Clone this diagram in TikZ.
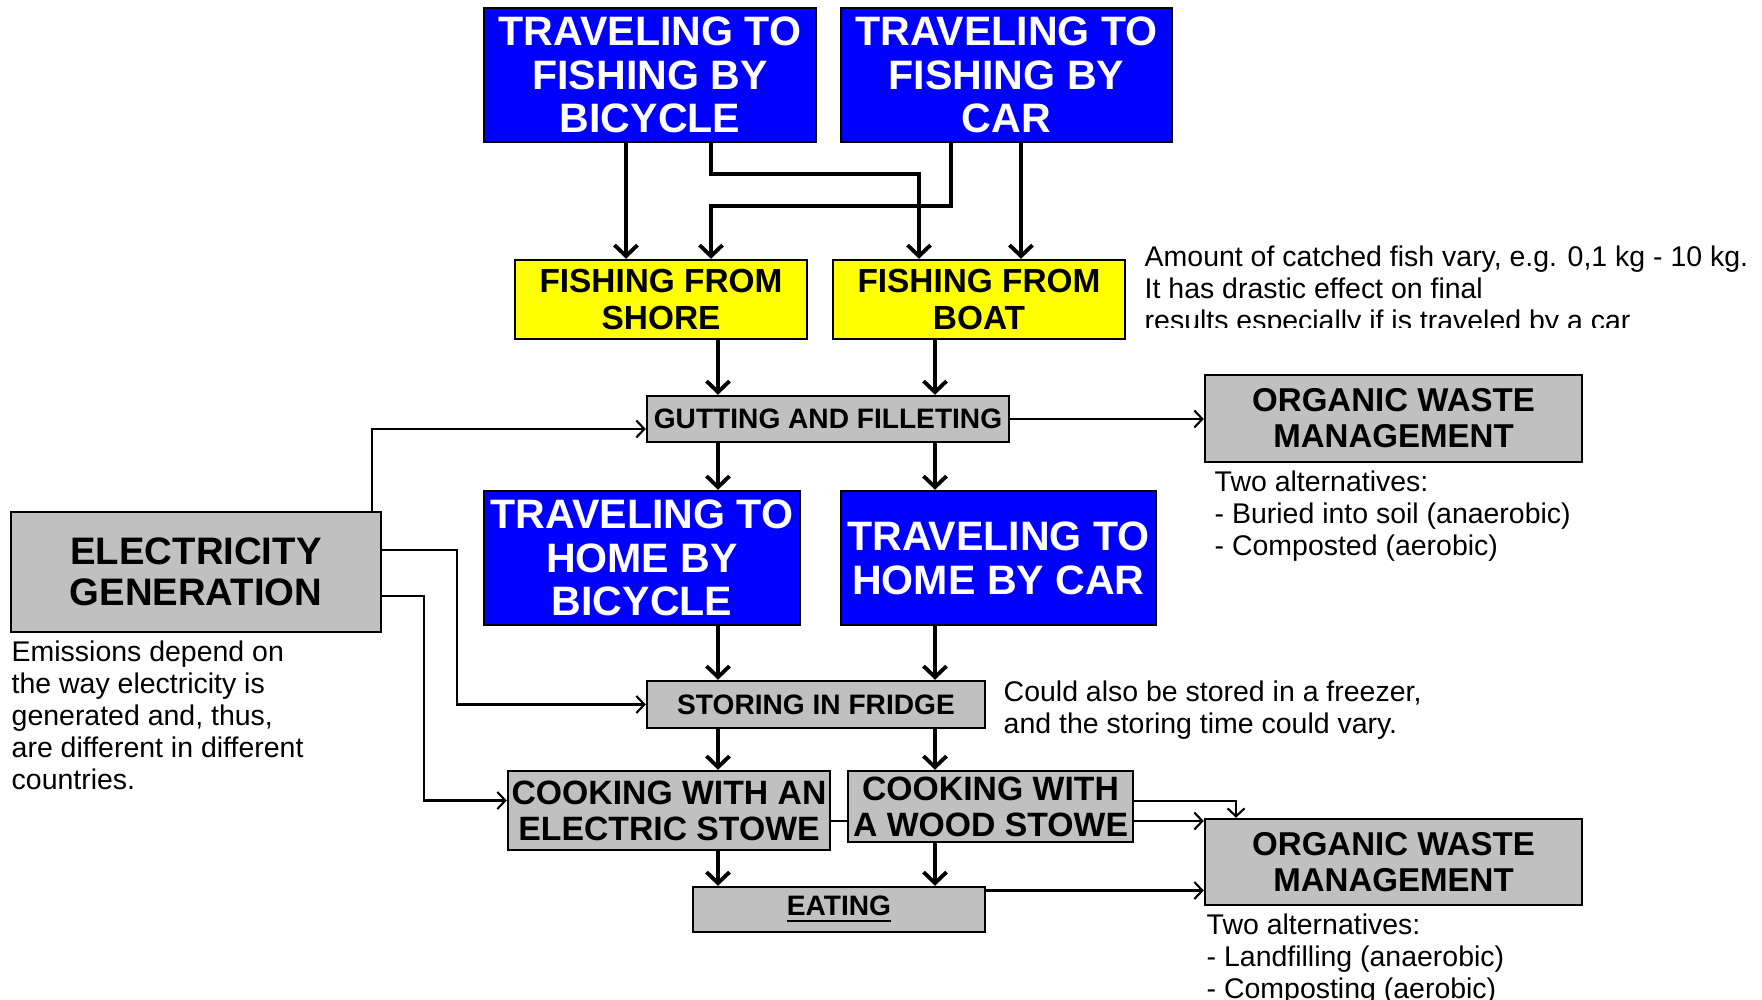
\documentclass[tikz,border=0pt]{standalone}
\usepackage{fontspec}
\setmainfont{Liberation Sans}
\usetikzlibrary{arrows.meta,backgrounds}
\definecolor{tripblue}{HTML}{0000FF}
\definecolor{catchyellow}{HTML}{FFFF00}
\definecolor{stepgrey}{HTML}{C0C0C0}

\begin{document}
\begin{tikzpicture}[
  box/.style={draw=black, line width=0.7pt, inner sep=0pt, align=center},
  bluebox/.style={box, fill=tripblue, text=white, minimum width=3.32cm, minimum height=1.34cm, font=\fontsize{11.7}{12.4}\selectfont\bfseries},
  yellowbox/.style={box, fill=catchyellow, minimum width=2.92cm, minimum height=0.79cm, font=\fontsize{9.5}{10.3}\selectfont\bfseries},
  greybox/.style={box, fill=stepgrey, font=\fontsize{8}{9}\selectfont\bfseries},
  cookbox/.style={box, fill=stepgrey, font=\fontsize{9.6}{10.2}\selectfont\bfseries},
  wastebox/.style={box, fill=stepgrey, minimum width=3.77cm, minimum height=0.87cm, font=\fontsize{9.4}{10.2}\selectfont\bfseries},
  note/.style={anchor=north west, inner sep=0pt, align=left, font=\fontsize{8.1}{9.1}\selectfont},
  flow/.style={line width=1.1pt, -{Straight Barb[length=1.1mm,width=2.3mm]}},
  feed/.style={line width=0.6pt, -{Straight Barb[length=0.8mm,width=1.7mm]}}
]
\useasboundingbox (0,0) rectangle (17.62,-10);

% travel and fishing
\node[bluebox] (tobike) at (6.50,-0.75) {TRAVELING TO\\FISHING BY\\BICYCLE};
\node[bluebox, minimum width=3.31cm] (tocar) at (10.065,-0.75) {TRAVELING TO\\FISHING BY\\CAR};
\node[yellowbox] (shore) at (6.61,-2.995) {FISHING FROM\\SHORE};
\node[yellowbox] (boat) at (9.79,-2.995) {FISHING FROM\\BOAT};
\begin{scope}
  \clip (11.3,-2.2) rectangle (17.62,-3.28);
  \node[note] (fishnote) at (11.44,-2.45) {Amount of catched fish vary, e.g. 0,1 kg - 10 kg.\\It has drastic effect on final\\results especially if is traveled by a car};
\end{scope}

% processing
\node[greybox, minimum width=3.62cm, minimum height=0.46cm] (gut) at (8.28,-4.19) {GUTTING AND FILLETING};
\node[wastebox] (waste1) at (13.935,-4.185) {ORGANIC WASTE\\MANAGEMENT};
\node[note] (waste1note) at (12.14,-4.70) {Two alternatives:\\- Buried into soil (anaerobic)\\- Composted (aerobic)};
\node[greybox, minimum width=3.70cm, minimum height=1.20cm, font=\fontsize{10.9}{11.6}\selectfont\bfseries] (elec) at (1.96,-5.72) {ELECTRICITY\\GENERATION};
\node[note] (elecnote) at (0.11,-6.40) {Emissions depend on\\the way electricity is\\generated and, thus,\\are different in different\\countries.};

% home and kitchen
\node[bluebox, minimum width=3.16cm] (homebike) at (6.42,-5.58) {TRAVELING TO\\HOME BY\\BICYCLE};
\node[bluebox, minimum width=3.15cm, font=\fontsize{11.7}{12.5}\selectfont\bfseries] (homecar) at (9.985,-5.58) {TRAVELING TO\\HOME BY CAR};
\node[greybox, minimum width=3.38cm, minimum height=0.47cm] (fridge) at (8.16,-7.045) {STORING IN FRIDGE};
\node[note] (fridgenote) at (10.03,-6.80) {Could also be stored in a freezer,\\and the storing time could vary.};
\node[cookbox, minimum width=3.22cm, minimum height=0.79cm] (cookel) at (6.69,-8.105) {COOKING WITH AN\\ELECTRIC STOWE};
\node[cookbox, minimum width=2.85cm, minimum height=0.71cm] (cookwood) at (9.905,-8.065) {COOKING WITH\\A WOOD STOWE};
\node[greybox, minimum width=2.92cm, minimum height=0.45cm] (eat) at (8.39,-9.095) {\underline{EATING}};
\node[wastebox, minimum height=0.86cm] (waste2) at (13.935,-8.62) {ORGANIC WASTE\\MANAGEMENT};
\node[note] (waste2note) at (12.06,-9.13) {Two alternatives:\\- Landfilling (anaerobic)\\- Composting (aerobic)};

% columns and elbows
\coordinate (colA) at (6.26,0);
\coordinate (colB) at (7.11,0);
\coordinate (colC) at (9.19,0);
\coordinate (colD) at (9.51,0);
\coordinate (colE) at (10.21,0);
\coordinate (colL) at (7.18,0);
\coordinate (colR) at (9.35,0);
\coordinate (colW) at (12.36,0);
\coordinate (elbowA) at (0,-1.74);
\coordinate (elbowB) at (0,-2.06);
\coordinate (elecA) at (3.72,0);
\coordinate (elecB) at (4.57,0);
\coordinate (elecC) at (4.24,0);
\coordinate (cookin) at ([yshift=1mm]cookel.west);
\coordinate (stoveout) at ([yshift=-1.05mm]cookel.east);
\coordinate (eatout) at ([yshift=1.9mm]eat.east);

\draw[flow] (tobike.south -| colA) -- (shore.north -| colA);
\draw[flow] (tobike.south -| colB) |- (elbowA -| colC) -- (boat.north -| colC);
\draw[flow] (tocar.south -| colD) |- (elbowB -| colB) -- (shore.north -| colB);
\draw[flow] (tocar.south -| colE) -- (boat.north -| colE);
\foreach \a/\b in {shore/gut, gut/homebike, homebike/fridge, fridge/cookel, cookel/eat}
  \draw[flow] (\a.south -| colL) -- (\b.north -| colL);
\foreach \a/\b in {boat/gut, gut/homecar, homecar/fridge, fridge/cookwood, cookwood/eat}
  \draw[flow] (\a.south -| colR) -- (\b.north -| colR);

% electricity and waste
\draw[feed] (elec.north -| elecA) |- ([yshift=-1mm]gut.west);
\draw[feed] ([yshift=2.2mm]elec.east) -| (elecB |- fridge.west) -- (fridge.west);
\draw[feed] ([yshift=-2.4mm]elec.east) -| (elecC |- cookin) -- (cookin);
\draw[feed] (gut.east) -- (gut.east -| waste1.west);
\draw[feed] ([yshift=0.55mm]cookwood.east) -| (waste2.north -| colW);
\begin{scope}[on background layer]
  \draw[feed] (stoveout) -- (stoveout -| waste2.west);
\end{scope}
\draw[feed] (eatout) -- (eatout -| waste2.west);
\end{tikzpicture}
\end{document}
